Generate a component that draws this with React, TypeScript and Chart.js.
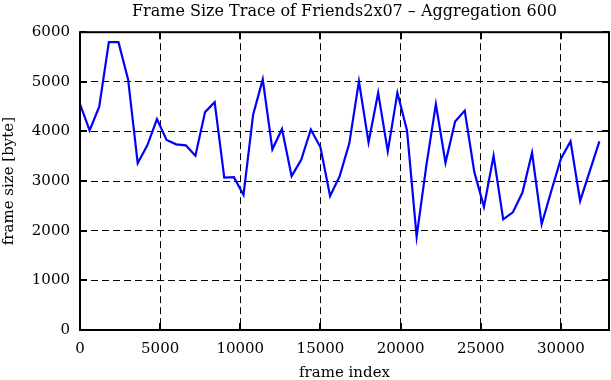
import { useEffect, useRef } from "react";
import { Chart, registerables } from "chart.js";

Chart.register(...registerables);

const TITLE = "Frame Size Trace of Friends2x07 \u2013 Aggregation 600";
const X_TITLE = "frame index";
const Y_TITLE = "frame size [byte]";

const frames = [
  0, 600, 1200, 1800, 2400, 3000, 3600, 4200, 4800, 5400, 6000, 6600, 7200, 7800,
  8400, 9000, 9600, 10200, 10800, 11400, 12000, 12600, 13200, 13800, 14400, 15000,
  15600, 16200, 16800, 17400, 18000, 18600, 19200, 19800, 20400, 21000, 21600,
  22200, 22800, 23400, 24000, 24600, 25200, 25800, 26400, 27000, 27600, 28200,
  28800, 29400, 30000, 30600, 31200, 31800, 32400,
];

const sizes = [
  4550, 4020, 4500, 5800, 5800, 5050, 3360, 3720, 4250, 3830, 3740, 3720, 3510, 4390,
  4590, 3070, 3080, 2720, 4340, 5050, 3640, 4050, 3100, 3430, 4040, 3680, 2700, 3100,
  3760, 5010, 3780, 4780, 3600, 4780, 4020, 1880, 3300, 4550, 3370, 4200, 4420, 3180,
  2480, 3510, 2230, 2370, 2770, 3570, 2130, 2800, 3450, 3800, 2600, 3200, 3800,
];

const X_MIN = 0;
const X_MAX = 33000;
const X_TICKS = [0, 5000, 10000, 15000, 20000, 25000, 30000];
const Y_MIN = 0;
const Y_MAX = 6000;
const Y_TICKS = [0, 1000, 2000, 3000, 4000, 5000, 6000];

const FONT_FAMILY = "'DejaVu Serif', serif";

const framePlugin = {
  id: "gnuplotFrame",
  afterDatasetsDraw(chart: any) {
    const { ctx, chartArea: a, scales } = chart;
    ctx.save();
    ctx.setLineDash([]);
    ctx.strokeStyle = "#000";
    ctx.lineWidth = 2;
    ctx.strokeRect(a.left, a.top, a.right - a.left, a.bottom - a.top);
    const L = 7;
    ctx.beginPath();
    scales.x.ticks.forEach((t: any) => {
      const px = Math.round(scales.x.getPixelForValue(t.value));
      ctx.moveTo(px, a.bottom);
      ctx.lineTo(px, a.bottom - L);
      ctx.moveTo(px, a.top);
      ctx.lineTo(px, a.top + L);
    });
    scales.y.ticks.forEach((t: any) => {
      const py = Math.round(scales.y.getPixelForValue(t.value));
      ctx.moveTo(a.left, py);
      ctx.lineTo(a.left + L, py);
      ctx.moveTo(a.right, py);
      ctx.lineTo(a.right - L, py);
    });
    ctx.stroke();
    ctx.restore();
  },
};

export default function App() {
  const ref = useRef<HTMLCanvasElement>(null);

  useEffect(() => {
    document.body.style.margin = "0";
    const font = { family: FONT_FAMILY, size: 15, weight: "normal" as const };
    const titleFont = { family: FONT_FAMILY, size: 16, weight: "normal" as const };
    const chart = new Chart(ref.current!, {
      type: "line",
      data: {
        datasets: [
          {
            data: frames.map((f, i) => ({ x: f, y: sizes[i] })),
            borderColor: "#0000ff",
            borderWidth: 2.2,
            pointRadius: 0,
            tension: 0,
            fill: false,
          },
        ],
      },
      options: {
        responsive: false,
        animation: false,
        layout: { padding: { left: 0, right: 2, top: 0, bottom: 0 } },
        plugins: {
          legend: { display: false },
          tooltip: { enabled: false },
          title: {
            display: true,
            text: TITLE,
            fullSize: false,
            color: "#000",
            font: titleFont,
            padding: { top: 2, bottom: 11 },
          },
        },
        scales: {
          x: {
            type: "linear",
            min: X_MIN,
            max: X_MAX,
            afterBuildTicks: (s: any) => {
              s.ticks = X_TICKS.map((v) => ({ value: v }));
            },
            ticks: {
              autoSkip: false,
              maxRotation: 0,
              color: "#000",
              font,
              padding: 10,
              callback: (v: any) => String(v),
            },
            grid: { color: "#000", lineWidth: 1, drawTicks: false },
            border: { display: false, dash: [7, 4] },
            title: {
              display: true,
              text: X_TITLE,
              color: "#000",
              font,
              padding: { top: 0, bottom: -2 },
            },
            afterFit: (s: any) => {
              s.height = 50;
            },
          },
          y: {
            type: "linear",
            min: Y_MIN,
            max: Y_MAX,
            afterBuildTicks: (s: any) => {
              s.ticks = Y_TICKS.map((v) => ({ value: v }));
            },
            ticks: {
              color: "#000",
              font,
              padding: 10,
              callback: (v: any) => String(v),
            },
            grid: { color: "#000", lineWidth: 1, drawTicks: false },
            border: { display: false, dash: [7, 4] },
            title: { display: true, text: Y_TITLE, color: "#000", font, padding: 0 },
            afterFit: (s: any) => {
              s.width = 80;
            },
          },
        },
      },
      plugins: [framePlugin],
    });
    return () => chart.destroy();
  }, []);

  return (
    <canvas
      ref={ref}
      width={611}
      height={380}
      style={{ display: "block", width: 611, height: 380 }}
    />
  );
}
